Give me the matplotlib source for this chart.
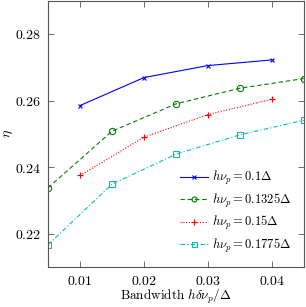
import matplotlib
matplotlib.use("Agg")
import matplotlib.pyplot as plt
from matplotlib.ticker import FuncFormatter

plt.rcParams['mathtext.fontset'] = 'cm'
plt.rcParams['font.family'] = 'serif'
plt.rcParams['font.serif'] = ['DejaVu Serif']

x_a = [0.01, 0.02, 0.03, 0.04]
x_b = [0.005, 0.015, 0.025, 0.035, 0.045]
eta_01 = [0.2585, 0.2669, 0.2705, 0.2722]
eta_1325 = [0.2338, 0.2508, 0.2590, 0.2637, 0.2666]
eta_015 = [0.2375, 0.2490, 0.2558, 0.2604]
eta_1775 = [0.2167, 0.2349, 0.2439, 0.2497, 0.2541]
labels = [r'$h\nu_p = 0.1\Delta$', r'$h\nu_p = 0.1325\Delta$',
          r'$h\nu_p = 0.15\Delta$', r'$h\nu_p = 0.1775\Delta$']

fig = plt.figure(figsize=(3.06, 3.07), dpi=100)
ax = fig.add_axes([0.157, 0.130, 0.836, 0.868])

ax.plot(x_a, eta_01, color='#0000ff', ls='-', lw=0.8, marker='x', ms=3.5, mew=0.8, label=labels[0])
ax.plot(x_b, eta_1325, color='#008000', ls=(0, (4, 2.5)), lw=0.8, marker='o', ms=4.5, mfc='none', mew=0.8, label=labels[1])
ax.plot(x_a, eta_015, color='#ff0000', ls=(0, (1, 1.5)), lw=0.8, marker='+', ms=5, mew=0.8, label=labels[2])
ax.plot(x_b, eta_1775, color='#00bfbf', ls=(0, (4, 2, 1, 2)), lw=0.8, marker='s', ms=4.5, mfc='none', mew=0.8, label=labels[3])

ax.set_xlim(0.005, 0.045)
ax.set_ylim(0.21, 0.29)
ax.set_xticks([0.01, 0.02, 0.03, 0.04])
ax.set_yticks([0.22, 0.24, 0.26, 0.28])
fmt = FuncFormatter(lambda v, p: f'${v:.2f}$')
ax.xaxis.set_major_formatter(fmt)
ax.yaxis.set_major_formatter(fmt)
ax.tick_params(direction='in', top=True, right=True, length=4, width=0.6,
               color='#555555', labelsize=10, pad=5)
for sp in ax.spines.values():
    sp.set_edgecolor('#555555'); sp.set_linewidth(0.8)

ax.set_xlabel(r'$\mathrm{Bandwidth}\ h\delta\nu_p/\Delta$', fontsize=9.5)
ax.set_ylabel(r'$\eta$', fontsize=10)
ax.xaxis.set_label_coords(0.5, -0.075)
ax.yaxis.set_label_coords(-0.13, 0.5)

ax.legend(loc='lower right', frameon=False, fontsize=9, handlelength=2.3,
          handletextpad=0.3, labelspacing=0.35, borderaxespad=0.6, markerscale=0.8)

fig.savefig('out.png', dpi=100)
